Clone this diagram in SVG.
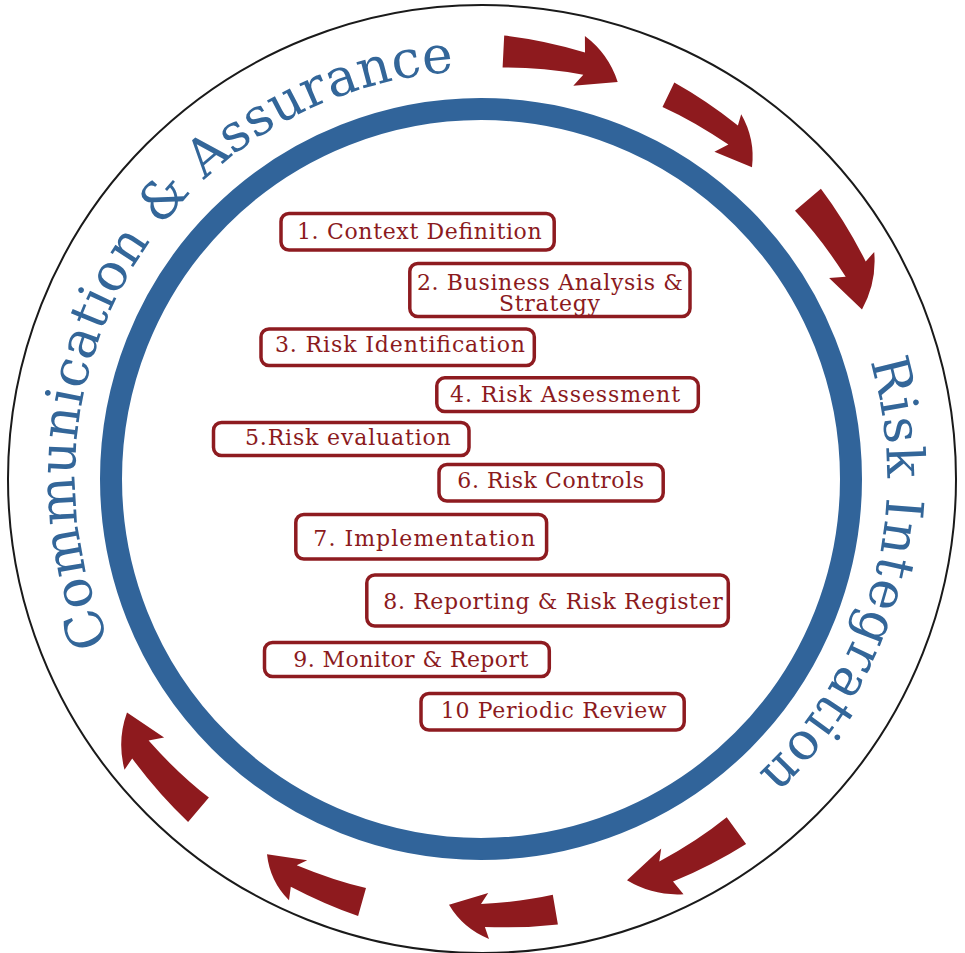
<svg xmlns="http://www.w3.org/2000/svg" width="965" height="953" viewBox="0 0 965 953">
<style>
.box{fill:#ffffff;stroke:#8e1b20;stroke-width:3.5}
.lbl{font-family:"DejaVu Serif","Liberation Serif",serif;font-size:22px;fill:#8b1a1d;text-anchor:middle}
.arc{font-family:"DejaVu Serif","Liberation Serif",serif;font-size:52px;fill:#336699}
.arr{fill:#8e1a1e}
</style>
<defs>
<path id="tp" d="M481,71 A406,406 0 1 1 481,883 A406,406 0 1 1 481,71"/>
</defs>
<rect width="965" height="953" fill="#ffffff"/>
<g id="outer-circle"><circle cx="482" cy="479" r="474" fill="none" stroke="#1a1a1a" stroke-width="2"/></g>
<g id="ring"><circle cx="481" cy="479" r="370" fill="none" stroke="#31649a" stroke-width="22"/></g>
<g id="ring-labels">
<text class="arc"><textPath href="#tp" startOffset="1743" textLength="780" lengthAdjust="spacing">Communication &amp; Assurance</textPath></text>
<text class="arc"><textPath href="#tp" startOffset="520" textLength="450" lengthAdjust="spacing">Risk Integration</textPath></text>
</g>
<g id="connectors">
<path class="arr" d="M504.2,35.6 Q543.5,40.1 585.0,52.5 L584.9,36.0 Q608.6,53.8 617.7,81.9 L573.3,85.7 L583.3,74.7 Q539.6,67.0 502.6,67.6 Z"/>
<path class="arr" d="M674.3,82.6 Q706.2,100.4 737.9,125.5 L741.2,114.3 Q755.4,139.0 752.0,167.3 L714.4,151.7 L728.4,144.6 Q693.9,121.1 662.5,106.9 Z"/>
<path class="arr" d="M820.9,188.7 Q845.5,221.4 865.7,261.4 L874.2,252.0 Q876.9,282.6 862.0,309.4 L829.1,278.0 L845.7,276.8 Q821.3,238.5 795.0,210.8 Z"/>
<path class="arr" d="M746.1,843.9 Q712.9,864.9 673.0,881.6 L683.5,894.2 Q653.1,896.0 627.0,880.3 L661.2,848.4 L659.3,861.5 Q698.1,840.4 726.7,817.2 Z"/>
<path class="arr" d="M557.9,924.4 Q523.5,928.3 484.9,927.0 L489.0,938.9 Q463.2,928.7 449.0,904.8 L488.2,892.9 L481.0,904.0 Q521.0,901.9 552.8,894.8 Z"/>
<path class="arr" d="M358.1,916.1 Q325.2,904.8 290.8,886.8 L289.0,900.3 Q269.9,881.2 267.0,854.2 L307.2,860.3 L296.7,865.3 Q334.0,880.7 366.0,888.1 Z"/>
<path class="arr" d="M188.1,821.9 Q158.6,794.1 132.2,758.5 L124.5,769.7 Q116.8,740.6 127.0,712.4 L164.1,737.5 L148.6,740.6 Q178.7,774.4 208.9,797.6 Z"/>
</g>
<g id="step1"><rect class="box" x="281" y="213.5" width="273.2" height="36.5" rx="8"/><text class="lbl" x="419.3" y="239" textLength="244.7">1. Context Definition</text></g>
<g id="step2"><rect class="box" x="409.8" y="263.5" width="280.2" height="53" rx="8"/><text class="lbl" x="549.9" y="290" textLength="266">2. Business Analysis &amp;</text><text class="lbl" x="549.5" y="311" textLength="101">Strategy</text></g>
<g id="step3"><rect class="box" x="261" y="329" width="273.3" height="36.5" rx="8"/><text class="lbl" x="400" y="352.3" textLength="250">3. Risk Identification</text></g>
<g id="step4"><rect class="box" x="436.8" y="377.8" width="261.5" height="33.8" rx="8"/><text class="lbl" x="565" y="401.7" textLength="230">4. Risk Assessment</text></g>
<g id="step5"><rect class="box" x="213.5" y="422.5" width="255.5" height="33" rx="8"/><text class="lbl" x="347.9" y="445" textLength="205.7">5.Risk evaluation</text></g>
<g id="step6"><rect class="box" x="439" y="464.5" width="224.2" height="36.5" rx="8"/><text class="lbl" x="550.7" y="488.3" textLength="186.7">6. Risk Controls</text></g>
<g id="step7"><rect class="box" x="295.8" y="514.5" width="250.8" height="44.5" rx="8"/><text class="lbl" x="424.2" y="546" textLength="221.7">7. Implementation</text></g>
<g id="step8"><rect class="box" x="366.8" y="575" width="361.5" height="51" rx="8"/><text class="lbl" x="553" y="609.3" textLength="339.4">8. Reporting &amp; Risk Register</text></g>
<g id="step9"><rect class="box" x="264.5" y="642.5" width="284.8" height="34" rx="8"/><text class="lbl" x="410.8" y="666.7" textLength="235">9. Monitor &amp; Report</text></g>
<g id="step10"><rect class="box" x="421" y="693.5" width="263.2" height="36.5" rx="8"/><text class="lbl" x="553.7" y="718.3" textLength="226">10 Periodic Review</text></g>
</svg>
